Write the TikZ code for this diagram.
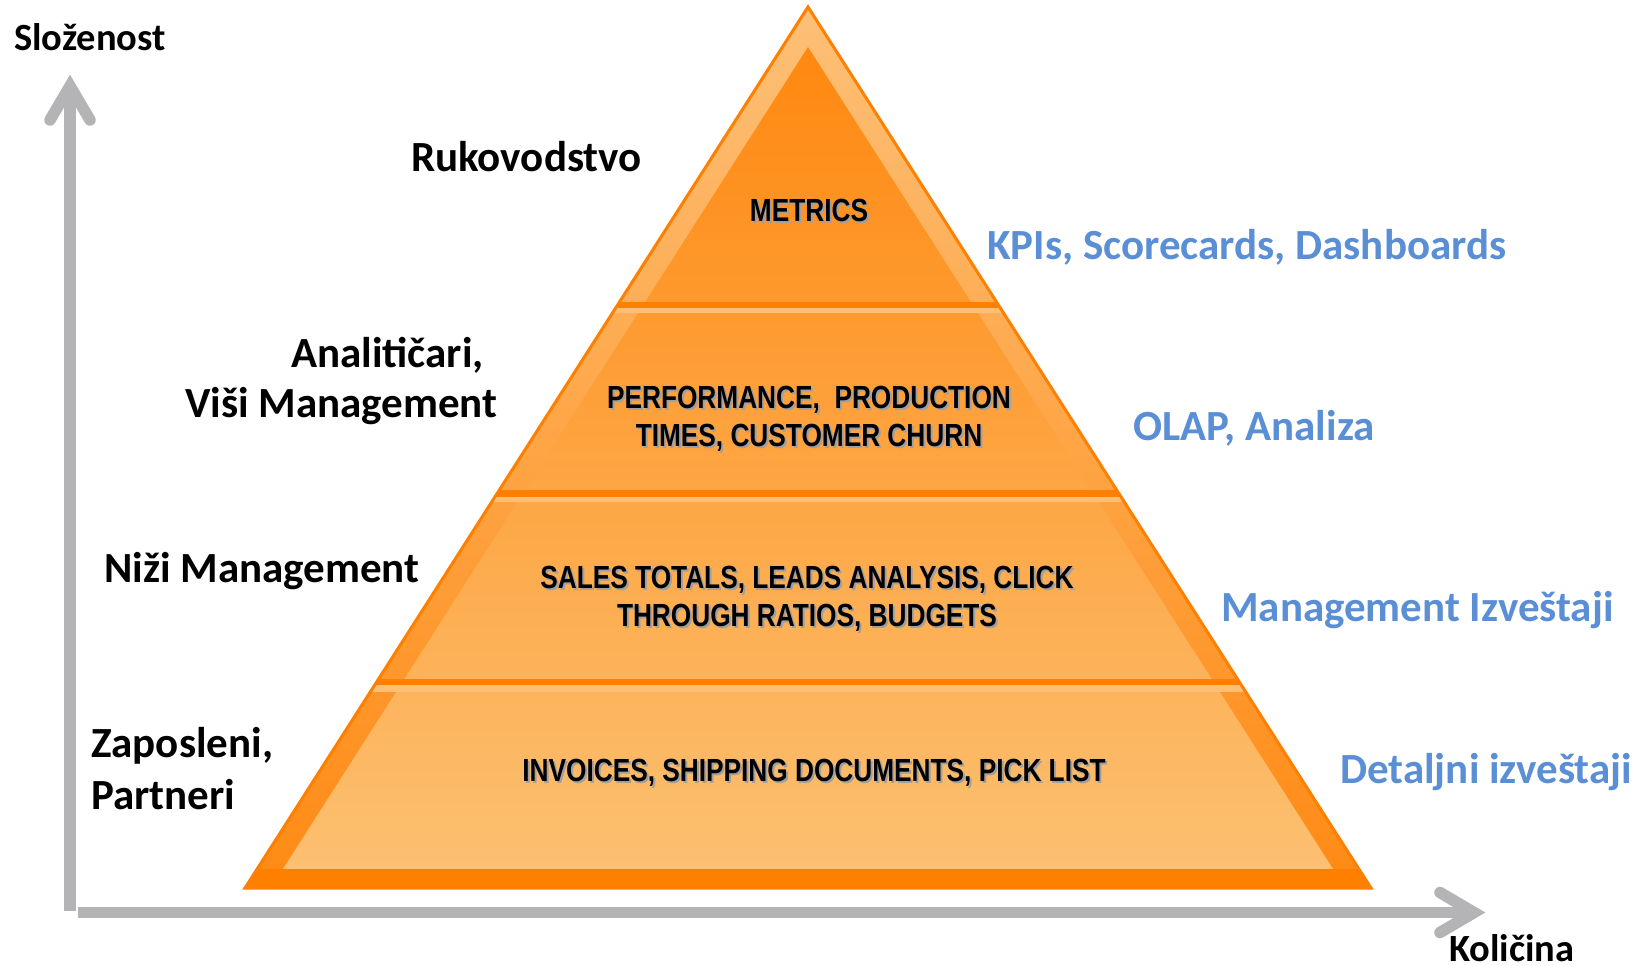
\documentclass[tikz,border=0pt]{standalone}
\usepackage{fontspec}
\setmainfont{Carlito}
\newfontfamily\narrowfont[FakeStretch=0.82]{Liberation Sans}
\definecolor{edgeor}{HTML}{FF8000}
\definecolor{bandtop}{HTML}{FDC077}
\definecolor{bandbot}{HTML}{FF8A14}
\definecolor{filltop}{HTML}{FF8810}
\definecolor{fillbot}{HTML}{FCC071}
\definecolor{lightstrip}{HTML}{FDBF75}
\definecolor{axisgray}{HTML}{B4B4B6}
\definecolor{labelblue}{HTML}{5A8FD6}
\definecolor{shadowgray}{HTML}{A0A0A0}
\begin{document}
\begin{tikzpicture}[x=1pt,y=-1pt,
  lbl/.style={font=\fontsize{43}{46}\selectfont\bfseries, inner sep=0pt, text=black},
  axlbl/.style={lbl, font=\fontsize{38.5}{42}\selectfont\bfseries},
  bluelbl/.style={lbl, text=labelblue},
  pyr/.style={font=\fontsize{32}{36}\selectfont\narrowfont\bfseries, inner sep=0pt, anchor=base},
  pyrsh/.style={pyr, text=shadowgray},
  axisline/.style={draw=axisgray, line width=11.5pt},
]
\useasboundingbox (0,0) rectangle (1641,966);
\coordinate (apex) at (808,7);
\coordinate (bl) at (245,888);
\coordinate (br) at (1371,888);
\coordinate (iapex) at (808,47);
\coordinate (ibl) at (283,869);
\coordinate (ibr) at (1333,869);
% pyramid body
\shade[top color=bandtop, bottom color=bandbot] (apex) -- (bl) -- (br) -- cycle;
\shade[top color=filltop, bottom color=fillbot] (iapex) -- (ibl) -- (ibr) -- cycle;
\begin{scope}
  \clip (apex) -- (bl) -- (br) -- cycle;
  \fill[edgeor] (200,869) rectangle (1400,890);
  \fill[edgeor] (200,302) rectangle (1400,308);
  \fill[lightstrip] (200,308) rectangle (1400,313);
  \fill[edgeor] (200,490) rectangle (1400,497);
  \fill[lightstrip] (200,497) rectangle (1400,502);
  \fill[edgeor] (200,679) rectangle (1400,685);
  \fill[lightstrip] (200,685) rectangle (1400,692);
\end{scope}
\draw[edgeor, line width=3pt, line join=miter] (apex) -- (bl) -- (br) -- cycle;
% axes
\coordinate (ybot) at (70,911);
\coordinate (ytop) at (70,86);
\coordinate (xleft) at (78,912.5);
\coordinate (xright) at (1474,912.5);
\draw[axisline] (ybot) -- (ytop);
\draw[axisline, line cap=round, line join=miter] (50,120) -- (ytop) -- (90,120);
\draw[axisline] (xleft) -- (xright);
\draw[axisline, line cap=round, line join=miter] (1440,892.5) -- (xright) -- (1440,932.5);
% labels
\node[axlbl, anchor=base west] (slozenost) at (14,51) {Složenost};
\node[axlbl, anchor=base west] (kolicina) at (1449,961) {Količina};
\node[lbl, anchor=base west] (rukovodstvo) at (411,171) {Rukovodstvo};
\node[lbl, anchor=base east] (analiticari) at (484,367) {Analitičari,};
\node[lbl, anchor=base west] (visi) at (185,417) {Viši Management};
\node[lbl, anchor=base west] (nizi) at (104,582) {Niži Management};
\node[lbl, anchor=base west] (zaposleni) at (91,757) {Zaposleni,};
\node[lbl, anchor=base west] (partneri) at (91,809) {Partneri};
\node[bluelbl, anchor=base west] (kpis) at (987,259) {KPIs, Scorecards, Dashboards};
\node[bluelbl, anchor=base west] (olap) at (1133,440) {OLAP, Analiza};
\node[bluelbl, anchor=base west] (mgmt) at (1221,621) {Management Izveštaji};
\node[bluelbl, anchor=base west] (detaljni) at (1340,783) {Detaljni izveštaji};
% pyramid texts
\node[pyrsh] (metricsS) at (811,223) {METRICS};
\node[pyr] (metrics) at (809,221) {METRICS};
\node[pyrsh] (perfS) at (811,410) {PERFORMANCE,~ PRODUCTION};
\node[pyr] (perf) at (809,408) {PERFORMANCE,~ PRODUCTION};
\node[pyrsh] (timesS) at (811,448) {TIMES, CUSTOMER CHURN};
\node[pyr] (times) at (809,446) {TIMES, CUSTOMER CHURN};
\node[pyrsh] (salesS) at (809,590) {SALES TOTALS, LEADS ANALYSIS, CLICK};
\node[pyr] (sales) at (807,588) {SALES TOTALS, LEADS ANALYSIS, CLICK};
\node[pyrsh] (throughS) at (809,628) {THROUGH RATIOS, BUDGETS};
\node[pyr] (through) at (807,626) {THROUGH RATIOS, BUDGETS};
\node[pyrsh] (invoicesS) at (816,783) {INVOICES, SHIPPING DOCUMENTS, PICK LIST};
\node[pyr] (invoices) at (814,781) {INVOICES, SHIPPING DOCUMENTS, PICK LIST};
\end{tikzpicture}
\end{document}
